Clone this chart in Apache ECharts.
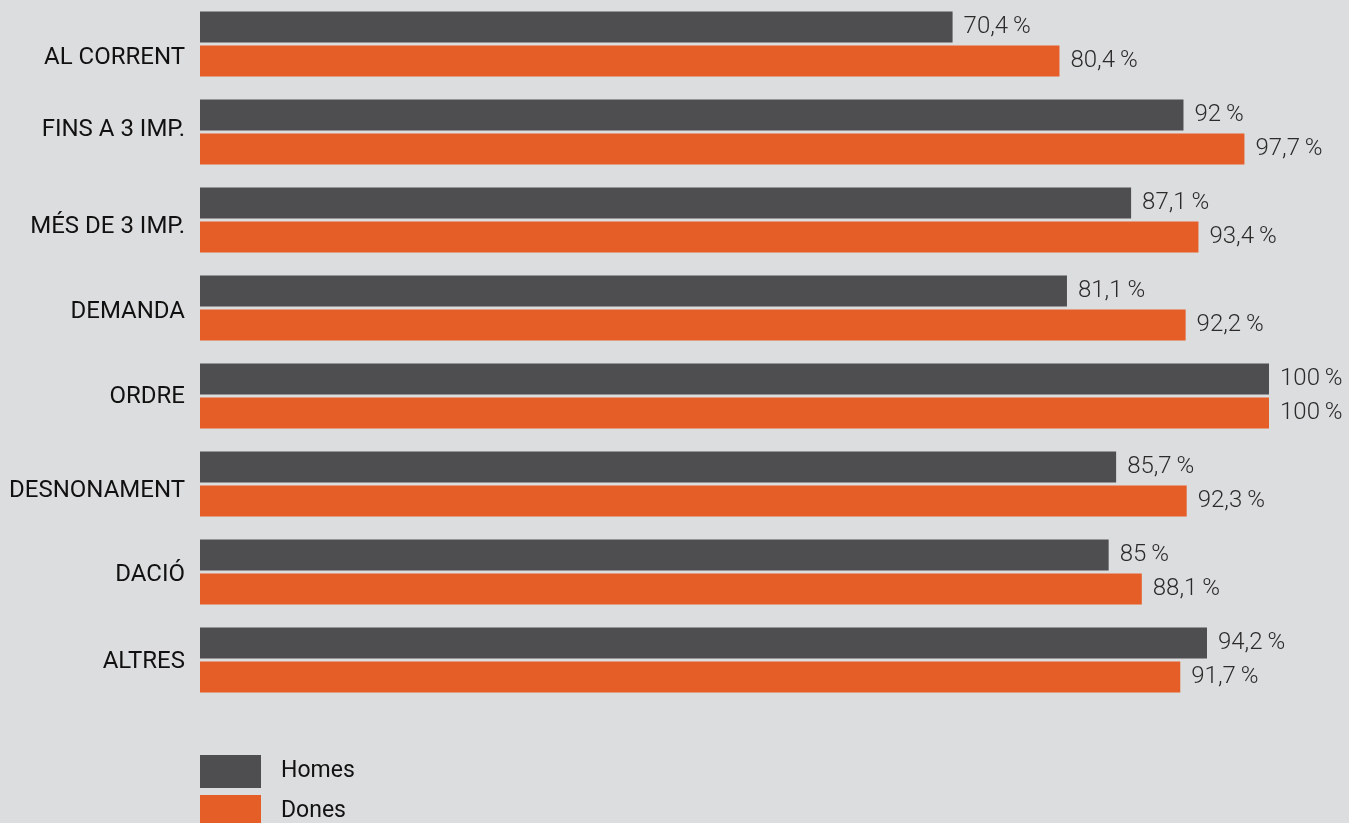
<!DOCTYPE html>
<html>
<head>
<meta charset="utf-8">
<script src="https://cdn.jsdelivr.net/npm/echarts@6/dist/echarts.min.js"></script>
<style>
  html, body { margin: 0; padding: 0; background: #dcddde; }
  #chart { width: 1349px; height: 823px; }
</style>
</head>
<body>
<div id="chart"></div>
<script>
// categories top to bottom
var categories = ['AL CORRENT', 'FINS A 3 IMP.', 'MÉS DE 3 IMP.', 'DEMANDA', 'ORDRE', 'DESNONAMENT', 'DACIÓ', 'ALTRES']
var homes = [70.4, 92, 87.1, 81.1, 100, 85.7, 85, 94.2]
var dones = [80.4, 97.7, 93.4, 92.2, 100, 92.3, 88.1, 91.7]

// the original labels sit a little off the band centre
var labelShift = [14, -2, 7, 4, 1, 7, 3, 2]

function pct(p) {
  return String(p.value).replace('.', ',') + '\u2009%'
}

var chart = echarts.init(document.getElementById('chart'))
var valueLabel = {
  show: true,
  position: 'right',
  distance: 11,
  formatter: pct,
  fontFamily: 'Roboto',
  fontWeight: 300,
  fontSize: 24,
  color: '#2b2b2b'
}
var legendText = {
  fontFamily: 'Roboto',
  fontSize: 23,
  color: '#111',
  padding: [0, 0, 0, 15]
}
var rich = {}
labelShift.forEach(function(s, i) {
  rich['r' + i] = {
    fontFamily: 'Roboto',
    fontSize: 24,
    color: '#111',
    padding: s > 0 ? [2 * s, 0, 0, 0] : [0, 0, -2 * s, 0]
  }
})
chart.setOption({
  backgroundColor: '#dcddde',
  animation: false,
  grid: {
    left: 200,
    right: 80,
    top: 0,
    height: 704,
    containLabel: false
  },
  // one legend per item so they stack without wrapping
  legend: [{
    left: 200,
    top: 755,
    padding: 0,
    itemWidth: 61,
    itemHeight: 33,
    icon: 'rect',
    textStyle: legendText,
    data: ['Homes']
  },
  {
    left: 200,
    top: 795,
    padding: 0,
    itemWidth: 61,
    itemHeight: 33,
    icon: 'rect',
    textStyle: legendText,
    data: ['Dones']
  }],
  xAxis: {
    type: 'value',
    min: 0,
    max: 100,
    show: false
  },
  yAxis: {
    type: 'category',
    inverse: true,
    data: categories,
    axisLine: { show: false },
    axisTick: { show: false },
    axisLabel: {
      margin: 15,
      fontFamily: 'Roboto',
      fontSize: 24,
      color: '#111',
      formatter: function(value, index) {
        return '{r' + index + '|' + value + '}'
      },
      rich: rich
    }
  },
  series: [{
    name: 'Homes',
    type: 'bar',
    data: homes,
    barWidth: 31,
    barGap: '10%',
    itemStyle: { color: '#4e4e50' },
    label: valueLabel
  },
  {
    name: 'Dones',
    type: 'bar',
    data: dones,
    barWidth: 31,
    itemStyle: { color: '#e55d27' },
    label: valueLabel
  }]
})
</script>
</body>
</html>
